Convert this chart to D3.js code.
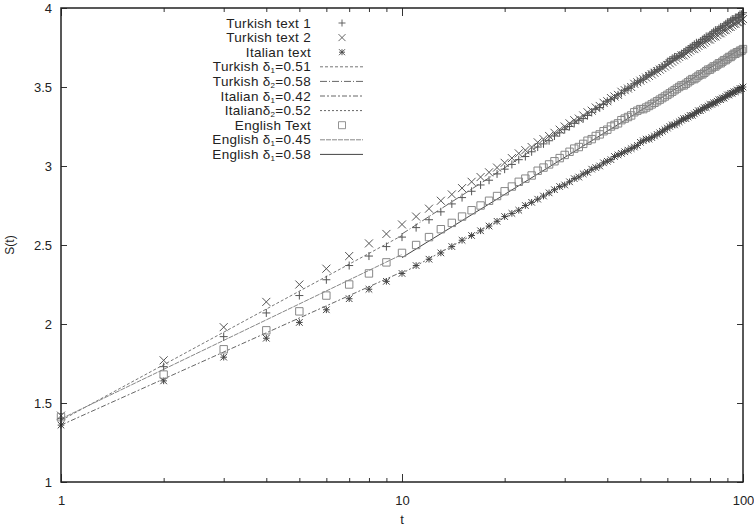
<!DOCTYPE html>
<html lang="en">
<head>
<script src="https://d3js.org/d3.v7.min.js"></script>
<style>
  body { margin: 0; background: #fff; }
  text { font-family: "Liberation Sans", Arial, sans-serif; fill: #222; }
</style>
</head>
<body>
<script>
    // values, one per integer t = 1..100
    var turkish1 = [1.40, 1.73, 1.92, 2.07, 2.18, 2.28, 2.37, 2.43, 2.49, 2.55,
        2.61, 2.66, 2.71, 2.76, 2.80, 2.84, 2.88, 2.91, 2.95, 2.98,
        3.01, 3.04, 3.06, 3.09, 3.12, 3.14, 3.16, 3.19, 3.21, 3.23,
        3.25, 3.27, 3.29, 3.30, 3.32, 3.34, 3.36, 3.37, 3.39, 3.41,
        3.42, 3.43, 3.45, 3.46, 3.48, 3.49, 3.50, 3.52, 3.53, 3.54,
        3.55, 3.57, 3.58, 3.59, 3.60, 3.61, 3.62, 3.63, 3.64, 3.66,
        3.67, 3.68, 3.69, 3.69, 3.70, 3.71, 3.72, 3.73, 3.74, 3.75,
        3.76, 3.77, 3.78, 3.78, 3.79, 3.80, 3.81, 3.82, 3.82, 3.83,
        3.84, 3.85, 3.86, 3.86, 3.87, 3.88, 3.88, 3.89, 3.90, 3.91,
        3.91, 3.92, 3.93, 3.93, 3.94, 3.94, 3.95, 3.96, 3.96, 3.97];

    var turkish2 = [1.42, 1.77, 1.98, 2.14, 2.25, 2.35, 2.43, 2.51, 2.57, 2.63,
        2.68, 2.73, 2.78, 2.82, 2.86, 2.90, 2.93, 2.96, 2.99, 3.02,
        3.05, 3.08, 3.10, 3.12, 3.15, 3.17, 3.19, 3.21, 3.23, 3.25,
        3.27, 3.29, 3.30, 3.32, 3.34, 3.35, 3.37, 3.38, 3.40, 3.41,
        3.43, 3.44, 3.45, 3.47, 3.48, 3.49, 3.50, 3.52, 3.53, 3.54,
        3.55, 3.56, 3.57, 3.58, 3.59, 3.60, 3.61, 3.62, 3.63, 3.64,
        3.65, 3.66, 3.67, 3.68, 3.69, 3.70, 3.70, 3.71, 3.72, 3.73,
        3.74, 3.74, 3.75, 3.76, 3.77, 3.77, 3.78, 3.79, 3.80, 3.80,
        3.81, 3.82, 3.82, 3.83, 3.84, 3.84, 3.85, 3.86, 3.86, 3.87,
        3.88, 3.88, 3.89, 3.90, 3.90, 3.91, 3.91, 3.92, 3.92, 3.93];

    var italian = [1.36, 1.64, 1.79, 1.91, 2.01, 2.09, 2.16, 2.22, 2.27, 2.32,
        2.37, 2.41, 2.45, 2.49, 2.53, 2.56, 2.59, 2.62, 2.65, 2.68,
        2.70, 2.72, 2.75, 2.77, 2.79, 2.81, 2.83, 2.85, 2.87, 2.88,
        2.90, 2.92, 2.93, 2.95, 2.96, 2.98, 2.99, 3.00, 3.02, 3.03,
        3.04, 3.06, 3.07, 3.08, 3.09, 3.10, 3.11, 3.12, 3.13, 3.15,
        3.16, 3.17, 3.17, 3.18, 3.19, 3.20, 3.21, 3.22, 3.23, 3.24,
        3.25, 3.26, 3.26, 3.27, 3.28, 3.29, 3.30, 3.30, 3.31, 3.32,
        3.32, 3.33, 3.34, 3.35, 3.35, 3.36, 3.37, 3.37, 3.38, 3.39,
        3.39, 3.40, 3.40, 3.41, 3.42, 3.42, 3.43, 3.43, 3.44, 3.45,
        3.45, 3.46, 3.46, 3.47, 3.47, 3.48, 3.48, 3.49, 3.49, 3.50];

    var english = [1.41, 1.68, 1.84, 1.96, 2.08, 2.18, 2.25, 2.32, 2.39, 2.45,
        2.50, 2.55, 2.60, 2.64, 2.68, 2.72, 2.75, 2.78, 2.81, 2.84,
        2.87, 2.90, 2.92, 2.94, 2.97, 2.99, 3.01, 3.03, 3.05, 3.07,
        3.09, 3.11, 3.12, 3.14, 3.16, 3.17, 3.19, 3.20, 3.22, 3.23,
        3.25, 3.26, 3.27, 3.29, 3.30, 3.31, 3.32, 3.34, 3.35, 3.36,
        3.36, 3.37, 3.38, 3.39, 3.40, 3.41, 3.42, 3.43, 3.44, 3.45,
        3.46, 3.47, 3.48, 3.49, 3.50, 3.51, 3.51, 3.52, 3.53, 3.54,
        3.55, 3.55, 3.56, 3.57, 3.58, 3.58, 3.59, 3.60, 3.61, 3.61,
        3.62, 3.63, 3.63, 3.64, 3.65, 3.65, 3.66, 3.67, 3.67, 3.68,
        3.69, 3.69, 3.70, 3.71, 3.71, 3.72, 3.72, 3.73, 3.73, 3.74];

    // fitted power-law lines: [t start, S start, t end, S end]
    var fitTurkish1 = [1, 1.39, 10, 2.56];
    var fitTurkish2 = [10, 2.57, 100, 3.96];
    var fitItalian1 = [1, 1.36, 10, 2.33];
    var fitItalian2 = [10, 2.32, 100, 3.50];
    var fitEnglish1 = [1, 1.40, 10, 2.44];
    var fitEnglish2 = [10, 2.42, 100, 3.75];

    var xTicks = [1, 10, 100];
    var xMinor = [2, 3, 4, 5, 6, 7, 8, 9, 20, 30, 40, 50, 60, 70, 80, 90];
    var yTicks = [1, 1.5, 2, 2.5, 3, 3.5, 4];

    var width = 754,
        height = 531,
        margin = {top: 8, right: 11, bottom: 49, left: 61};

    var svg = d3.select("body")
                .append("svg")
                .attr("width", width)
                .attr("height", height);

    var x = d3.scaleLog()
              .domain([1, 100])
              .range([margin.left, width - margin.right]);

    var y = d3.scaleLinear()
              .domain([1, 4])
              .range([height - margin.bottom, margin.top]);

    var tAll = d3.range(1, 101);

    // marker shapes, drawn as paths around 0,0
    function marker(type, r) {
        var p = d3.path();
        if (type === "plus" || type === "star") {
            p.moveTo(-r, 0); p.lineTo(r, 0);
            p.moveTo(0, -r); p.lineTo(0, r);
        }
        if (type === "cross" || type === "star") {
            p.moveTo(-r, -r); p.lineTo(r, r);
            p.moveTo(-r, r); p.lineTo(r, -r);
        }
        if (type === "box") {
            p.rect(-r, -r, 2 * r, 2 * r);
        }
        return p.toString();
    }

    var line = d3.line()
                 .x(function (d) { return x(d[0]); })
                 .y(function (d) { return y(d[1]); });

    var fits = [
        {seg: fitTurkish1, dash: "3,2", color: "#777", w: 1},
        {seg: fitTurkish2, dash: "7,2,1,2", color: "#666", w: 1},
        {seg: fitItalian1, dash: "5,2,2,2", color: "#666", w: 1},
        {seg: fitItalian2, dash: "2,2", color: "#666", w: 1},
        {seg: fitEnglish1, dash: "5,1", color: "#888", w: 1},
        {seg: fitEnglish2, dash: null, color: "#444", w: 1}
    ];

    var series = [
        {values: turkish1, type: "plus", r: 4, color: "#555"},
        {values: turkish2, type: "cross", r: 4, color: "#555"},
        {values: italian, type: "star", r: 3.3, color: "#444"},
        {values: english, type: "box", r: 3.7, color: "#888"}
    ];

    var plot = svg.append("g");

    plot.selectAll("path.fit")
        .data(fits)
        .enter()
        .append("path")
        .attr("class", "fit")
        .attr("d", function (d) {
            return line([[d.seg[0], d.seg[1]], [d.seg[2], d.seg[3]]]);
        })
        .attr("fill", "none")
        .attr("stroke", function (d) { return d.color; })
        .attr("stroke-width", function (d) { return d.w; })
        .attr("stroke-dasharray", function (d) { return d.dash; });

    series.forEach(function (s) {
        plot.append("g")
            .selectAll("path")
            .data(s.values)
            .enter()
            .append("path")
            .attr("transform", function (d, i) {
                return "translate(" + x(tAll[i]) + "," + y(d) + ")";
            })
            .attr("d", marker(s.type, s.r))
            .attr("fill", "none")
            .attr("stroke", s.color)
            .attr("stroke-width", 1);
    });

    // axes: ticks point inwards on all four sides
    var bottom = height - margin.bottom,
        right = width - margin.right;

    function styleAxis(g) {
        g.select(".domain").remove();
        g.selectAll(".tick line").attr("stroke", "#333");
        g.selectAll("text")
         .attr("font-size", 13)
         .attr("font-family", "Liberation Sans, Arial, sans-serif")
         .attr("fill", "#222");
    }

    svg.append("g")
       .attr("transform", "translate(0," + bottom + ")")
       .call(d3.axisBottom(x).tickValues(xTicks).tickSize(-8).tickPadding(14)
             .tickFormat(d3.format("d")))
       .call(styleAxis);

    svg.append("g")
       .attr("transform", "translate(0," + bottom + ")")
       .call(d3.axisBottom(x).tickValues(xMinor).tickSize(-4).tickFormat(""))
       .call(styleAxis);

    svg.append("g")
       .attr("transform", "translate(0," + margin.top + ")")
       .call(d3.axisTop(x).tickValues(xTicks).tickSize(-8).tickFormat(""))
       .call(styleAxis);

    svg.append("g")
       .attr("transform", "translate(0," + margin.top + ")")
       .call(d3.axisTop(x).tickValues(xMinor).tickSize(-4).tickFormat(""))
       .call(styleAxis);

    svg.append("g")
       .attr("transform", "translate(" + margin.left + ",0)")
       .call(d3.axisLeft(y).tickValues(yTicks).tickSize(-6).tickPadding(9)
             .tickFormat(d3.format("")))
       .call(styleAxis);

    svg.append("g")
       .attr("transform", "translate(" + right + ",0)")
       .call(d3.axisRight(y).tickValues(yTicks).tickSize(-6).tickFormat(""))
       .call(styleAxis);

    // frame
    svg.append("rect")
       .attr("x", margin.left)
       .attr("y", margin.top)
       .attr("width", right - margin.left)
       .attr("height", bottom - margin.top)
       .attr("fill", "none")
       .attr("stroke", "#222")
       .attr("stroke-width", 1.5);

    svg.append("text")
       .attr("x", (margin.left + right) / 2)
       .attr("y", 524)
       .attr("text-anchor", "middle")
       .attr("font-size", 13)
       .text("t");

    svg.append("text")
       .attr("transform", "translate(14," + (margin.top + bottom) / 2 + ") rotate(-90)")
       .attr("text-anchor", "middle")
       .attr("font-size", 12)
       .text("S(t)");

    // legend
    var legendRows = [
        {label: ["Turkish text 1"], mark: "plus", color: "#555"},
        {label: ["Turkish text 2"], mark: "cross", color: "#555"},
        {label: ["Italian text"], mark: "star", color: "#444"},
        {label: ["Turkish δ", "1", "=0.51"], fit: 0},
        {label: ["Turkish δ", "2", "=0.58"], fit: 1},
        {label: ["Italian δ", "1", "=0.42"], fit: 2},
        {label: ["Italianδ", "2", "=0.52"], fit: 3},
        {label: ["English Text"], mark: "box", color: "#888"},
        {label: ["English δ", "1", "=0.45"], fit: 4},
        {label: ["English δ", "1", "=0.58"], fit: 5}
    ];

    var legend = svg.append("g");
    var rowH = 14.6, top0 = 23;

    legendRows.forEach(function (row, i) {
        var yy = top0 + i * rowH;
        var t = legend.append("text")
                      .attr("x", 311)
                      .attr("y", yy + 4.5)
                      .attr("text-anchor", "end")
                      .attr("font-size", 13.5)
                      .attr("letter-spacing", 0.3);
        t.append("tspan").text(row.label[0]);
        if (row.label.length > 1) {
            t.append("tspan").attr("font-size", 8).attr("dy", 2).text(row.label[1]);
            t.append("tspan").attr("dy", -2).text(row.label[2]);
        }
        if (row.mark) {
            legend.append("path")
                  .attr("transform", "translate(342," + yy + ")")
                  .attr("d", marker(row.mark, row.mark === "star" ? 3 : 3.5))
                  .attr("fill", "none")
                  .attr("stroke", row.color)
                  .attr("stroke-width", 0.9);
        } else {
            var f = fits[row.fit];
            legend.append("line")
                  .attr("x1", 320).attr("x2", 363)
                  .attr("y1", yy).attr("y2", yy)
                  .attr("stroke", f.color)
                  .attr("stroke-width", f.w)
                  .attr("stroke-dasharray", f.dash);
        }
    });
</script>
</body>
</html>
